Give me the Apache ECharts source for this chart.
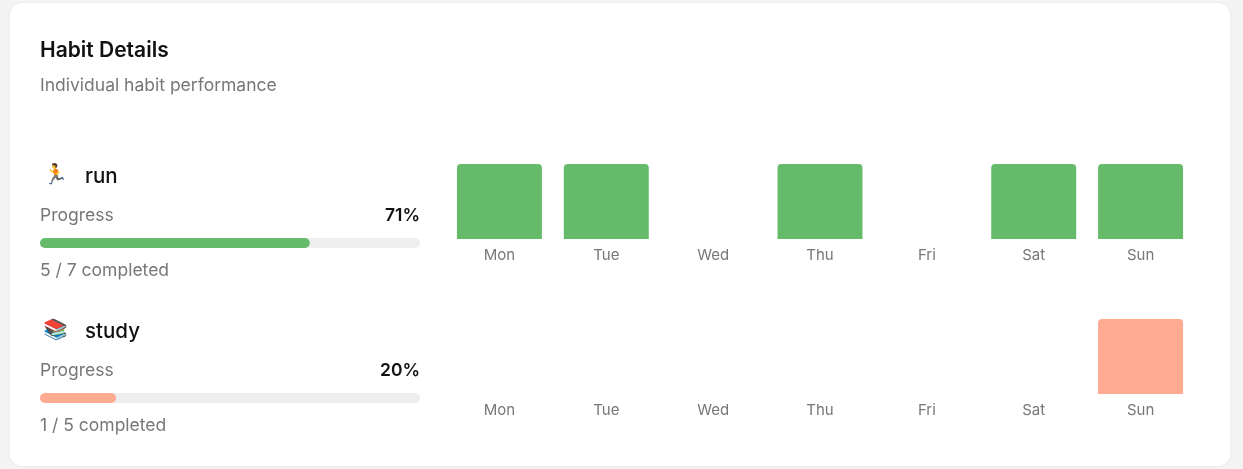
<!DOCTYPE html>
<html>
<head>
<meta charset="utf-8">
<script src="https://cdn.jsdelivr.net/npm/echarts@6/dist/echarts.min.js"></script>
<style>
  html, body { margin: 0; padding: 0; background: #f4f4f4; }
  #chart { width: 1243px; height: 469px; }
</style>
</head>
<body>
<div id="chart"></div>
<script>
const days = ['Mon', 'Tue', 'Wed', 'Thu', 'Fri', 'Sat', 'Sun'];
const habitNames = ['run', 'study'];
const habitIcons = ['🏃', '📚'];
const habitColors = ['#66bb6a', '#ffab91'];
const runDone = [1, 1, 0, 1, 0, 1, 1];
const studyDone = [0, 0, 0, 0, 0, 0, 1];
const progress = [71, 20];
const completed = ['5 / 7 completed', '1 / 5 completed'];

const font = 'Inter, "Noto Sans", sans-serif';
const rowTop = [164, 319];
const dayData = [runDone, studyDone];

const grids = [], xAxes = [], yAxes = [], series = [], graphics = [];

graphics.push({
  type: 'rect', shape: { x: 10, y: 3, width: 1220, height: 463, r: 12 },
  style: { fill: '#fff', shadowBlur: 3, shadowColor: 'rgba(0,0,0,0.08)' }, z: -10
});
graphics.push({ type: 'text', left: 40, top: 40, style: { text: 'Habit Details', font: '600 21px ' + font, fill: '#111' } });
graphics.push({ type: 'text', left: 40, top: 77, style: { text: 'Individual habit performance', font: '17.5px ' + font, fill: '#777' } });

habitNames.forEach((name, i) => {
  const t = rowTop[i];
  graphics.push({ type: 'text', left: 43, top: t + 1, style: { text: habitIcons[i], font: '20px ' + font } });
  graphics.push({ type: 'text', left: 85, top: t + 2, style: { text: name, font: '500 20.5px ' + font, fill: '#111' } });
  graphics.push({ type: 'text', left: 40, top: t + 43, style: { text: 'Progress', font: '17.5px ' + font, fill: '#777' } });
  graphics.push({ type: 'text', right: 1243 - 420, top: t + 43, style: { text: progress[i] + '%', font: '600 17.5px ' + font, fill: '#111', align: 'right' } });
  graphics.push({ type: 'text', left: 40, top: t + 98, style: { text: completed[i], font: '17.5px ' + font, fill: '#777' } });

  // progress bar
  grids.push({ left: 40, width: 380, top: t + 74, height: 10 });
  xAxes.push({ type: 'value', gridIndex: grids.length - 1, min: 0, max: 100, show: false });
  yAxes.push({ type: 'category', gridIndex: grids.length - 1, data: [name], show: false });
  series.push({
    type: 'bar', xAxisIndex: grids.length - 1, yAxisIndex: grids.length - 1,
    data: [progress[i]], barWidth: 10, showBackground: true,
    backgroundStyle: { color: '#eeeeee', borderRadius: 5 },
    itemStyle: { color: habitColors[i], borderRadius: 5 }, silent: true
  });

  // weekly cells
  grids.push({ left: 446, right: 49, top: t, height: 75 });
  xAxes.push({
    type: 'category', gridIndex: grids.length - 1, data: days,
    axisLine: { show: false }, axisTick: { show: false },
    axisLabel: { color: '#777', fontSize: 15, fontFamily: font, margin: 9 }
  });
  yAxes.push({ type: 'value', gridIndex: grids.length - 1, min: 0, max: 1, show: false });
  series.push({
    type: 'bar', xAxisIndex: grids.length - 1, yAxisIndex: grids.length - 1,
    data: dayData[i], barWidth: 85,
    itemStyle: { color: habitColors[i], borderRadius: [4, 4, 0, 0] }, silent: true
  });
});

const chart = echarts.init(document.getElementById('chart'));
chart.setOption({
  animation: false,
  grid: grids, xAxis: xAxes, yAxis: yAxes, series: series, graphic: graphics
});
</script>
</body>
</html>
